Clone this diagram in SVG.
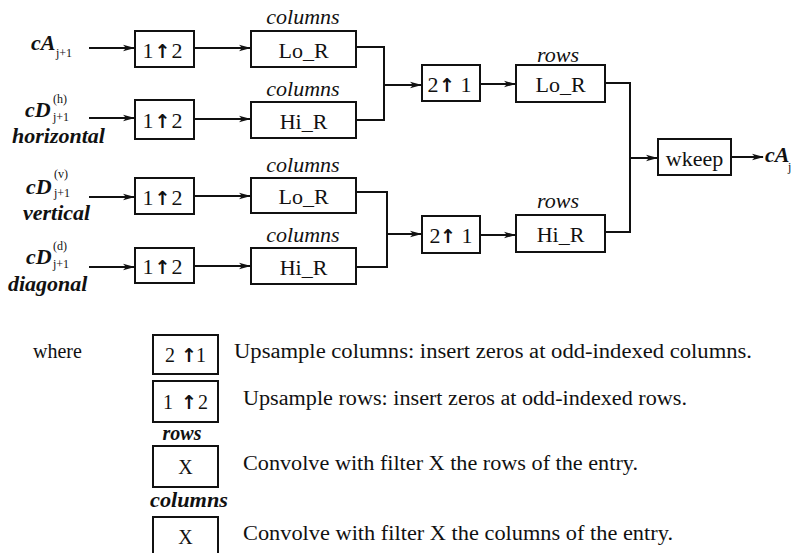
<svg xmlns="http://www.w3.org/2000/svg" width="795" height="553" viewBox="0 0 795 553">
  <style>
    text { font-family: "Liberation Serif", "Times New Roman", serif; fill: #111; }
    .box { fill: #fff; stroke: #111; stroke-width: 2; }
    .lbl { font-size: 22px; text-anchor: middle; }
    .up { font-family: "DejaVu Sans", sans-serif; font-weight: bold; font-size: 19px; }
    .cap { font-size: 22px; font-style: italic; text-anchor: middle; }
    .sig { font-size: 22px; font-style: italic; font-weight: bold; }
    .sub { font-size: 12px; font-style: normal; font-weight: normal; }
    .leg { font-size: 20px; }
    .legcap { font-size: 20px; font-style: italic; font-weight: bold; text-anchor: middle; }
    .wire { fill: none; stroke: #111; stroke-width: 2; }
    .arr { fill: none; stroke: #111; stroke-width: 2; marker-end: url(#head); }
  </style>
  <defs>
    <marker id="head" markerWidth="12" markerHeight="8" refX="11" refY="4" orient="auto" markerUnits="userSpaceOnUse">
      <path d="M0,0.8 L12,4 L0,7.2 L3,4 Z" fill="#111"/>
    </marker>
  </defs>
  <rect width="795" height="553" fill="#fff"/>

  <!-- input signals -->
  <g id="in-ca">
    <text class="sig" x="31" y="50">cA<tspan class="sub" x="56" y="57">j+1</tspan></text>
  </g>
  <g id="in-cdh">
    <text class="sig" x="25" y="117">cD<tspan class="sub" x="53" y="103">(h)</tspan><tspan class="sub" x="53" y="121">j+1</tspan></text>
    <text class="sig" x="12" y="143">horizontal</text>
  </g>
  <g id="in-cdv">
    <text class="sig" x="26" y="194">cD<tspan class="sub" x="54" y="178">(v)</tspan><tspan class="sub" x="54" y="197">j+1</tspan></text>
    <text class="sig" x="23" y="220">vertical</text>
  </g>
  <g id="in-cdd">
    <text class="sig" x="26" y="264">cD<tspan class="sub" x="53" y="250">(d)</tspan><tspan class="sub" x="53" y="268">j+1</tspan></text>
    <text class="sig" x="8" y="291">diagonal</text>
  </g>

  <!-- row upsamplers -->
  <g id="up-r1">
    <rect class="box" x="135" y="31" width="59" height="36"/>
    <text class="lbl"><tspan x="148" y="57.5">1</tspan><tspan class="up" x="162.5" y="57.5">↑</tspan><tspan x="177" y="57.5">2</tspan></text>
  </g>
  <g id="up-r2">
    <rect class="box" x="135" y="100" width="59" height="39"/>
    <text class="lbl"><tspan x="148" y="128">1</tspan><tspan class="up" x="162.5" y="128">↑</tspan><tspan x="177" y="128">2</tspan></text>
  </g>
  <g id="up-r3">
    <rect class="box" x="135" y="178" width="59" height="36"/>
    <text class="lbl"><tspan x="148" y="204.5">1</tspan><tspan class="up" x="162.5" y="204.5">↑</tspan><tspan x="177" y="204.5">2</tspan></text>
  </g>
  <g id="up-r4">
    <rect class="box" x="135" y="248" width="59" height="35"/>
    <text class="lbl"><tspan x="148" y="274">1</tspan><tspan class="up" x="162.5" y="274">↑</tspan><tspan x="177" y="274">2</tspan></text>
  </g>

  <!-- column filters -->
  <g id="col-lo-1">
    <text class="cap" x="303" y="24">columns</text>
    <rect class="box" x="251" y="31" width="105" height="36"/>
    <text class="lbl" x="303.5" y="57.5">Lo_R</text>
  </g>
  <g id="col-hi-1">
    <text class="cap" x="303" y="96">columns</text>
    <rect class="box" x="251" y="102" width="105" height="36"/>
    <text class="lbl" x="303.5" y="128.5">Hi_R</text>
  </g>
  <g id="col-lo-2">
    <text class="cap" x="303" y="172">columns</text>
    <rect class="box" x="251" y="178" width="105" height="35"/>
    <text class="lbl" x="303.5" y="204">Lo_R</text>
  </g>
  <g id="col-hi-2">
    <text class="cap" x="303" y="242">columns</text>
    <rect class="box" x="251" y="248" width="105" height="36"/>
    <text class="lbl" x="303.5" y="274.5">Hi_R</text>
  </g>

  <!-- column upsamplers -->
  <g id="up-c1">
    <rect class="box" x="422" y="65" width="58" height="36"/>
    <text class="lbl"><tspan x="433" y="91.5">2</tspan><tspan class="up" x="447" y="91.5">↑</tspan><tspan x="466" y="91.5">1</tspan></text>
  </g>
  <g id="up-c2">
    <rect class="box" x="422" y="216" width="58" height="37"/>
    <text class="lbl"><tspan x="435" y="243">2</tspan><tspan class="up" x="448" y="243">↑</tspan><tspan x="467" y="243">1</tspan></text>
  </g>

  <!-- row filters -->
  <g id="row-lo">
    <text class="cap" x="558" y="62">rows</text>
    <rect class="box" x="516" y="65" width="89" height="37"/>
    <text class="lbl" x="560.5" y="92">Lo_R</text>
  </g>
  <g id="row-hi">
    <text class="cap" x="558" y="208">rows</text>
    <rect class="box" x="516" y="215" width="89" height="37"/>
    <text class="lbl" x="560.5" y="242">Hi_R</text>
  </g>

  <!-- keep central part -->
  <g id="wkeep">
    <rect class="box" x="658" y="139" width="73" height="36"/>
    <text class="lbl" x="694.5" y="165.5">wkeep</text>
  </g>
  <g id="out-ca">
    <text class="sig" x="765" y="162" font-weight="normal" font-size="19">cA<tspan class="sub" x="788" y="171">j</tspan></text>
  </g>

  <!-- connectors -->
  <g id="connectors">
    <line class="arr" x1="89" y1="48" x2="134" y2="48"/>
    <line class="arr" x1="89" y1="118" x2="134" y2="118"/>
    <line class="arr" x1="89" y1="197" x2="134" y2="197"/>
    <line class="arr" x1="89" y1="267" x2="134" y2="267"/>

    <line class="arr" x1="194" y1="48" x2="250" y2="48"/>
    <line class="arr" x1="194" y1="119" x2="250" y2="119"/>
    <line class="arr" x1="194" y1="196" x2="250" y2="196"/>
    <line class="arr" x1="194" y1="266" x2="250" y2="266"/>

    <polyline class="wire" points="356,47 384,47 384,120 356,120"/>
    <line class="arr" x1="384" y1="85" x2="421" y2="85"/>
    <polyline class="wire" points="356,192 387,192 387,267 356,267"/>
    <line class="arr" x1="387" y1="234" x2="421" y2="234"/>

    <line class="arr" x1="480" y1="84" x2="515" y2="84"/>
    <line class="arr" x1="480" y1="235" x2="515" y2="235"/>

    <polyline class="wire" points="605,83 630,83 630,232 605,232"/>
    <line class="arr" x1="630" y1="158" x2="657" y2="158"/>
    <line class="arr" x1="731" y1="157" x2="763" y2="157"/>
  </g>

  <!-- key -->
  <g id="key">
    <text class="leg" x="33" y="358">where</text>

    <rect class="box" x="153" y="335" width="65" height="39"/>
    <text class="leg" text-anchor="middle"><tspan x="170" y="362">2</tspan><tspan class="up" font-weight="normal" x="189" y="362">↑</tspan><tspan x="201" y="362">1</tspan></text>
    <text class="leg" x="234" y="358" textLength="518" lengthAdjust="spacingAndGlyphs">Upsample columns: insert zeros at odd-indexed columns.</text>

    <rect class="box" x="153" y="381" width="65" height="41"/>
    <text class="leg" text-anchor="middle"><tspan x="168" y="409">1</tspan><tspan class="up" x="189" y="409">↑</tspan><tspan x="203" y="409">2</tspan></text>
    <text class="leg" x="243" y="405" textLength="444" lengthAdjust="spacingAndGlyphs">Upsample rows: insert zeros at odd-indexed rows.</text>

    <text class="legcap" x="182" y="440">rows</text>
    <rect class="box" x="153" y="446" width="65" height="41"/>
    <text class="leg" x="185.5" y="474" text-anchor="middle">X</text>
    <text class="leg" x="243" y="470" textLength="395" lengthAdjust="spacingAndGlyphs">Convolve with filter X the rows of the entry.</text>

    <text class="legcap" x="189" y="507" textLength="78" lengthAdjust="spacingAndGlyphs">columns</text>
    <rect class="box" x="153" y="517" width="65" height="45"/>
    <text class="leg" x="185.5" y="544" text-anchor="middle">X</text>
    <text class="leg" x="243" y="540" textLength="430" lengthAdjust="spacingAndGlyphs">Convolve with filter X the columns of the entry.</text>
  </g>
</svg>
